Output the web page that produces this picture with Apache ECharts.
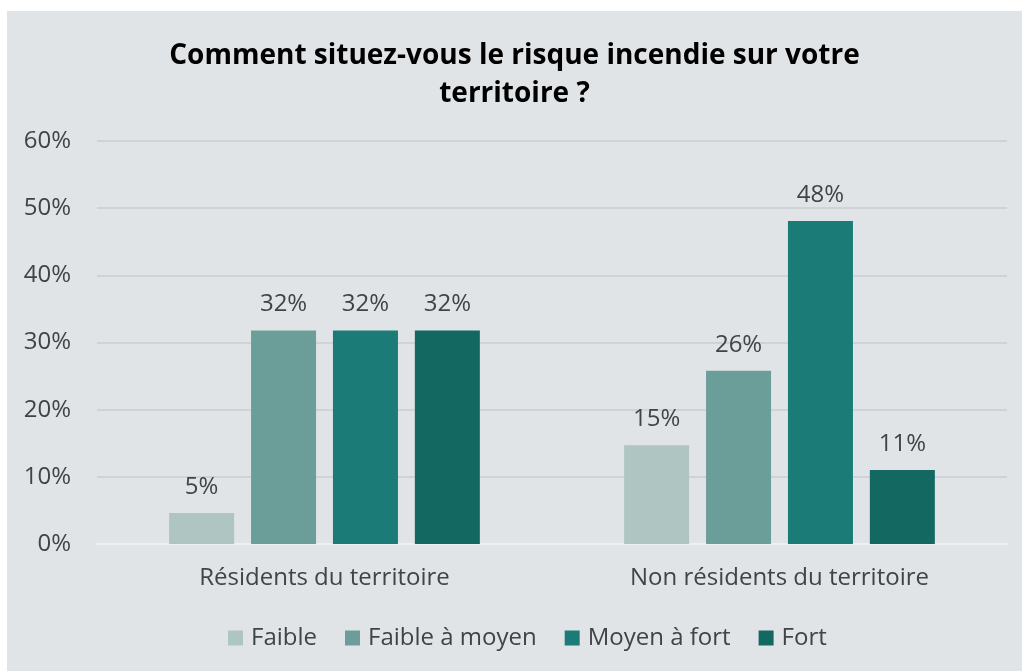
<!DOCTYPE html>
<html>
<head>
<meta charset="utf-8">
<script src="https://cdn.jsdelivr.net/npm/echarts@6/dist/echarts.min.js"></script>
<style>
  html, body { margin: 0; padding: 0; background: #ffffff; }
  #chart { position: absolute; left: 7px; top: 11px; width: 1015px; height: 660px; background: #e1e4e7; }
</style>
</head>
<body>
<div id="chart"></div>
<script>
const categories = ['Résidents du territoire', 'Non résidents du territoire']
const seriesNames = ['Faible', 'Faible à moyen', 'Moyen à fort', 'Fort']
// values (labels show them rounded)
const faible = [4.6, 14.7]
const faibleMoyen = [31.8, 25.8]
const moyenFort = [31.8, 48.1]
const fort = [31.8, 11]
const colors = ['#aec5c2', '#6b9e99', '#1a7b77', '#136862']

const textColor = '#404448'
const font = '"Open Sans", sans-serif'

const chart = echarts.init(document.getElementById('chart'))
const values = [faible, faibleMoyen, moyenFort, fort]

chart.setOption({
  animation: false,
  title: {
    text: 'Comment situez-vous le risque incendie sur votre\nterritoire ?',
    left: 'center',
    top: 21,
    textStyle: {
      fontFamily: font,
      fontWeight: 'bold',
      fontSize: 28,
      lineHeight: 38,
      color: '#000000'
    }
  },
  legend: {
    bottom: 16,
    left: 216,
    itemWidth: 15,
    itemHeight: 15,
    itemGap: 28,
    icon: 'rect',
    textStyle: { fontFamily: font, fontSize: 24, color: textColor, padding: [0, 0, 0, 3] },
    data: seriesNames
  },
  grid: { left: 90, right: 15, top: 130, bottom: 127, containLabel: false },
  xAxis: {
    type: 'category',
    data: categories,
    axisLine: { lineStyle: { color: '#eef0f2', width: 2 } },
    axisTick: { show: false },
    axisLabel: { fontFamily: font, fontSize: 24, color: textColor, margin: 22 }
  },
  yAxis: {
    type: 'value',
    min: 0,
    max: 60,
    interval: 10,
    axisLine: { show: false },
    axisTick: { show: false },
    splitLine: { lineStyle: { color: '#c9ccd1', width: 1.5 } },
    axisLabel: { fontFamily: font, fontSize: 24, color: textColor, margin: 26, formatter: '{value}%' }
  },
  series: seriesNames.map((name, i) => ({
    name: name,
    type: 'bar',
    data: values[i],
    barWidth: 65,
    barGap: '26%',
    itemStyle: { color: colors[i] },
    label: {
      show: true,
      position: 'top',
      distance: 14,
      formatter: p => Math.round(p.value) + '%',
      fontFamily: font,
      fontSize: 24,
      color: textColor
    }
  }))
})
</script>
</body>
</html>
